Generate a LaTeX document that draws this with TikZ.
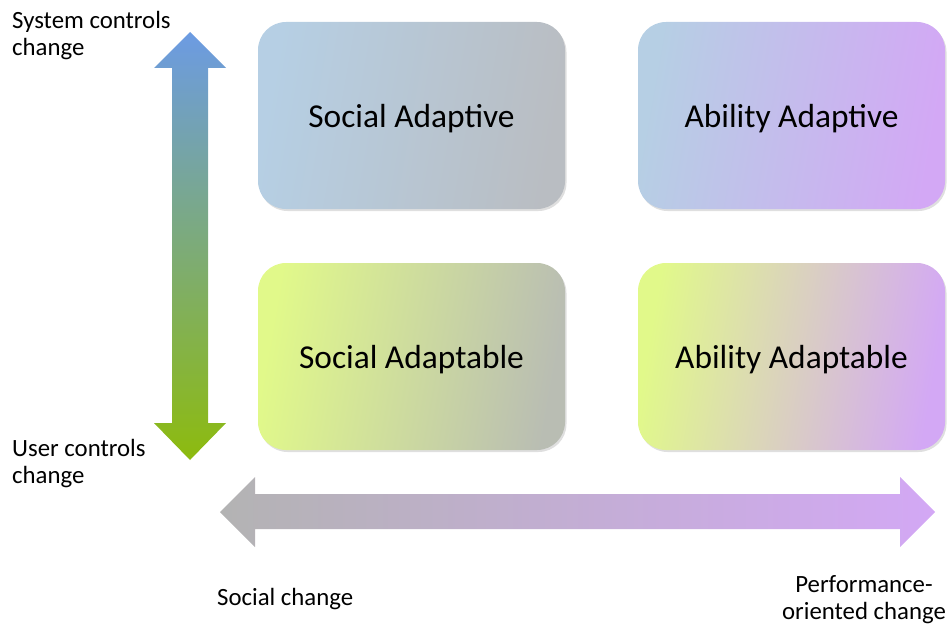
\documentclass[tikz,border=0pt]{standalone}
\usepackage{fontspec}
\setmainfont{Carlito}
\usetikzlibrary{shadows}
\definecolor{skyblue}{HTML}{B6CFE4}
\definecolor{lime}{HTML}{E1F98A}
\definecolor{slate}{HTML}{B9BDC2}
\definecolor{olivegrey}{HTML}{B9BDB3}
\definecolor{lavender}{HTML}{D3A8F5}
\definecolor{upblue}{HTML}{6C9BE3}
\definecolor{midteal}{HTML}{7BA39A}
\definecolor{downgreen}{HTML}{8DBB0E}
\definecolor{leftgrey}{HTML}{B3B3B3}
\definecolor{midmauve}{HTML}{BDB2C6}
\tikzset{
quad/.style={rounded corners=28pt, minimum width=307pt, minimum height=187pt,
  inner sep=0pt, text height=24pt, text depth=0pt,
  font=\fontsize{33.4}{38}\selectfont,
  drop shadow={opacity=.25, shadow xshift=1.5pt, shadow yshift=-2pt}},
axislabel/.style={font=\fontsize{24.8}{27}\selectfont, inner sep=0pt, align=left, anchor=base west}
}
\begin{document}
\begin{tikzpicture}[x=1pt,y=-1pt,line join=round]
\useasboundingbox (0,0) rectangle (950,626);
% the four quadrants
\node[quad, left color=skyblue, right color=slate, shading angle=80] (SAd) at (411.5,115.5) {Social Adaptive};
\node[quad, left color=skyblue, right color=lavender, shading angle=80] (AAd) at (791.5,115.5) {Ability Adaptive};
\node[quad, left color=lime, right color=olivegrey, shading angle=80] (SAb) at (411.5,356.5) {Social Adaptable};
\node[quad, left color=lime, right color=lavender, shading angle=80] (AAb) at (791.5,356.5) {Ability Adaptable};
% vertical double arrow
\def\vx{190}
\shade[top color=upblue, middle color=midteal, bottom color=downgreen]
(\vx,32)--(\vx+36,68)--(\vx+18,68)--(\vx+18,423)--(\vx+36,423)--(\vx,460)
--(\vx-36,423)--(\vx-18,423)--(\vx-18,68)--(\vx-36,68)--cycle;
% horizontal double arrow
\def\hy{512}
\shade[left color=leftgrey, middle color=midmauve, right color=lavender]
(220,\hy)--(255,\hy-35)--(255,\hy-18)--(900,\hy-18)--(900,\hy-35)--(935,\hy)
--(900,\hy+35)--(900,\hy+17)--(255,\hy+17)--(255,\hy+35)--cycle;
% axis labels (base = last line)
\node[axislabel] (sys) at (12,56) {System controls\\change};
\node[axislabel] (usr) at (12,483) {User controls\\change};
\node[axislabel] (soc) at (217,605) {Social change};
\node[axislabel, align=center, anchor=base] (perf) at (864,619) {Performance-\\oriented change};
\end{tikzpicture}
\end{document}
